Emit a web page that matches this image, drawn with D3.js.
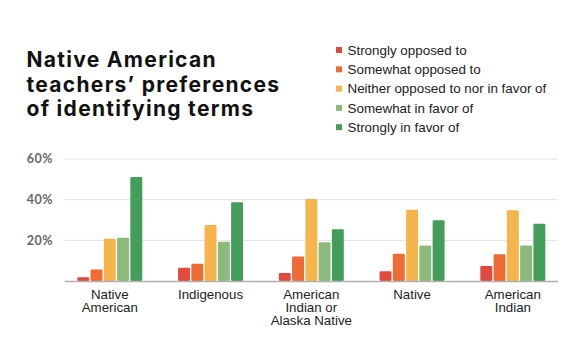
<!DOCTYPE html>
<html><head><meta charset="utf-8">
<script src="https://cdn.jsdelivr.net/npm/d3@7"></script>
<style>body{margin:0;background:#fff}</style>
</head><body>
<svg id="c" width="570" height="360"></svg>
<script>
const categories = [["Native","American"],["Indigenous"],["American","Indian or","Alaska Native"],["Native"],["American","Indian"]];
const seriesNames = ["Strongly opposed to","Somewhat opposed to","Neither opposed to nor in favor of","Somewhat in favor of","Strongly in favor of"];
const stronglyOpposed = [1.8, 6.5, 3.9, 4.8, 7.4];
const somewhatOpposed = [5.7, 8.5, 12.1, 13.4, 13.1];
const neither = [20.8, 27.5, 40.3, 35.1, 34.8];
const somewhatFavor = [21.3, 19.3, 19.0, 17.4, 17.4];
const stronglyFavor = [51.2, 38.7, 25.4, 29.9, 28.2];
const yTicks = [0, 20, 40, 60];
const colors = ["#e04a3f","#ee6b35","#f5b54c","#8cba7d","#449d5a"];

const series = [stronglyOpposed, somewhatOpposed, neither, somewhatFavor, stronglyFavor];
const svg = d3.select("#c");

// Title
const title = ["Native American","teachers\u2019 preferences","of identifying terms"];
svg.append("g").selectAll("text").data(title).join("text")
  .attr("x", 26.5).attr("y", (d,i)=>67.3+i*24.4)
  .attr("font-family","Inter, 'Open Sans', sans-serif").attr("font-weight",700)
  .attr("font-size",21).attr("letter-spacing",1.3).attr("fill","#111").text(d=>d);

// Legend
const lg = svg.append("g").selectAll("g").data(seriesNames).join("g")
  .attr("transform",(d,i)=>`translate(336,${50+i*19.3})`);
lg.append("rect").attr("x",0).attr("y",-3).attr("width",6).attr("height",6).attr("fill",(d,i)=>colors[i]);
lg.append("text").attr("x",11.5).attr("y",4.8).attr("font-family","'Liberation Sans', Arial, sans-serif")
  .attr("font-size",13.4).attr("fill","#222").text(d=>d);

// Scales
const x0 = d3.scaleBand().domain(d3.range(categories.length)).range([59.4,563.2]).paddingInner(0).paddingOuter(0);
const y = d3.scaleLinear().domain([0,60]).range([281,159]);
const x1 = d3.scaleBand().domain(d3.range(5)).range([0,65]).paddingInner(0.1).paddingOuter(0);

// gridlines
svg.append("g").selectAll("line").data(yTicks.filter(t=>t>0)).join("line")
  .attr("x1",65).attr("x2",558).attr("y1",d=>y(d)).attr("y2",d=>y(d))
  .attr("stroke","#e3e3e3").attr("stroke-width",1);

// y labels
svg.append("g").selectAll("text").data(yTicks.filter(t=>t>0)).join("text")
  .attr("x",53).attr("y",d=>y(d)+4.3).attr("text-anchor","end")
  .attr("font-family","Lato, 'Open Sans', sans-serif").attr("font-weight",700).attr("font-size",12.5)
  .attr("letter-spacing",0.5).attr("fill","#666")
  .text(d=>d+"%");

// bars
const groups = svg.append("g").selectAll("g").data(categories).join("g")
  .attr("transform",(d,i)=>`translate(${x0(i)+x0.bandwidth()/2-32.5},0)`);
groups.selectAll("rect").data((d,i)=>series.map((s,k)=>({k,v:s[i]}))).join("rect")
  .attr("x",d=>x1(d.k)).attr("width",x1.bandwidth())
  .attr("y",d=>y(d.v)).attr("height",d=>y(0)-y(d.v))
  .attr("rx",1.2)
  .attr("fill",d=>colors[d.k]);

// baseline
svg.append("line").attr("x1",65).attr("x2",558).attr("y1",y(0)+0.5).attr("y2",y(0)+0.5)
  .attr("stroke","#b0b0b0").attr("stroke-width",1.3);

// x labels (one text per line)
const lines = [];
categories.forEach((c,i)=>c.forEach((t,j)=>lines.push({i,j,t})));
svg.append("g").selectAll("text").data(lines).join("text")
  .attr("x",d=>x0(d.i)+x0.bandwidth()/2).attr("y",d=>299.3+d.j*13)
  .attr("text-anchor","middle")
  .attr("font-family","'Liberation Sans', Arial, sans-serif").attr("font-size",13.3).attr("fill","#222")
  .text(d=>d.t);
</script>
</body></html>
